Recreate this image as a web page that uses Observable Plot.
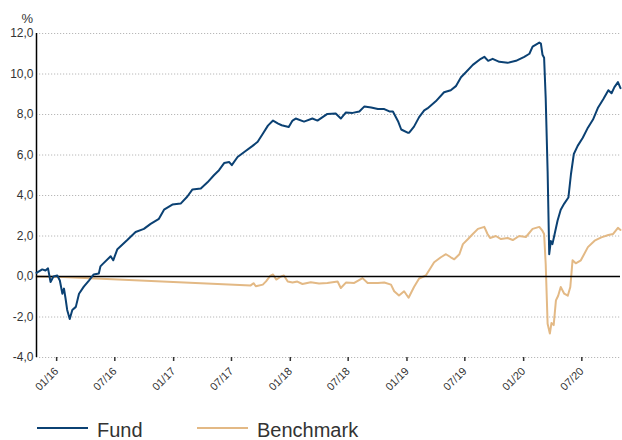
<!DOCTYPE html>
<html><head><meta charset="utf-8">
<script src="https://cdn.jsdelivr.net/npm/d3@7"></script>
<script src="https://cdn.jsdelivr.net/npm/@observablehq/plot@0.6"></script>
<style>
body{margin:0;background:#fff;font-family:"Liberation Sans",Arial,sans-serif;}
#chart{width:622px;height:400px;}
#legend{position:relative;width:622px;height:40px;}
.sw{position:absolute;height:0;border-top:2px solid;width:51px;top:27px;}
.lt{position:absolute;top:20px;font-size:20px;line-height:20px;color:#333;}
</style></head><body>
<div id="chart"></div>
<div id="legend">
  <div class="sw" style="left:37px;border-color:#0b4173"></div><div class="lt" style="left:97px">Fund</div>
  <div class="sw" style="left:197px;border-color:#e3b985"></div><div class="lt" style="left:257px">Benchmark</div>
</div>
<script>
const fundDates = ["2015-10-30","2015-11-17","2015-11-27","2015-12-05","2015-12-13","2015-12-22","2016-01-03","2016-01-11","2016-01-19","2016-01-24","2016-01-29","2016-02-03","2016-02-11","2016-02-19","2016-03-01","2016-03-11","2016-03-26","2016-04-11","2016-04-26","2016-05-12","2016-05-17","2016-05-23","2016-06-18","2016-06-26","2016-07-09","2016-08-09","2016-09-04","2016-09-30","2016-10-21","2016-11-16","2016-12-02","2016-12-28","2017-01-23","2017-02-13","2017-03-01","2017-03-27","2017-04-17","2017-05-07","2017-05-23","2017-06-08","2017-06-24","2017-07-02","2017-07-20","2017-08-10","2017-09-05","2017-09-21","2017-10-07","2017-10-23","2017-11-08","2017-11-24","2017-12-05","2017-12-27","2018-01-08","2018-01-18","2018-02-13","2018-03-11","2018-03-27","2018-04-27","2018-05-23","2018-06-08","2018-06-24","2018-07-15","2018-08-05","2018-08-21","2018-09-11","2018-10-02","2018-10-22","2018-11-07","2018-11-18","2018-12-04","2018-12-14","2019-01-03","2019-01-08","2019-01-23","2019-02-08","2019-02-24","2019-03-06","2019-04-01","2019-04-27","2019-05-18","2019-06-03","2019-06-19","2019-07-05","2019-07-26","2019-08-20","2019-08-31","2019-09-12","2019-09-26","2019-10-17","2019-11-12","2019-12-08","2020-01-03","2020-01-19","2020-01-29","2020-02-19","2020-02-24","2020-02-29","2020-03-05","2020-03-10","2020-03-16","2020-03-21","2020-03-26","2020-03-31","2020-04-07","2020-04-16","2020-04-26","2020-05-07","2020-05-20","2020-05-28","2020-06-06","2020-06-18","2020-07-04","2020-07-20","2020-08-05","2020-08-21","2020-09-06","2020-09-22","2020-10-02","2020-10-11","2020-10-22","2020-10-30"];
const fundValues = [0.18,0.35,0.3,0.4,-0.27,0.0,0.05,-0.2,-0.85,-0.6,-1.1,-1.65,-2.1,-1.65,-1.5,-0.85,-0.5,-0.2,0.1,0.15,0.5,0.6,1.0,0.8,1.35,1.8,2.2,2.35,2.6,2.85,3.3,3.55,3.6,3.95,4.3,4.35,4.65,5.0,5.25,5.6,5.65,5.5,5.9,6.15,6.45,6.65,7.05,7.45,7.7,7.55,7.47,7.38,7.7,7.8,7.65,7.8,7.7,8.03,8.05,7.8,8.1,8.08,8.15,8.4,8.35,8.27,8.27,8.15,8.15,7.67,7.26,7.1,7.1,7.4,7.87,8.2,8.3,8.65,9.1,9.2,9.4,9.84,10.1,10.45,10.75,10.85,10.65,10.75,10.6,10.55,10.65,10.85,11.0,11.35,11.55,11.5,10.95,10.8,8.8,5.2,1.1,1.75,1.6,2.1,2.75,3.3,3.6,3.9,5.05,6.05,6.45,6.85,7.35,7.75,8.35,8.75,9.2,9.05,9.35,9.6,9.3];
const benchDates = ["2015-10-30","2016-01-20","2017-08-30","2017-09-08","2017-09-15","2017-10-07","2017-10-17","2017-10-30","2017-11-08","2017-11-18","2017-12-03","2017-12-12","2017-12-24","2018-01-08","2018-01-23","2018-02-08","2018-03-06","2018-04-01","2018-04-27","2018-05-29","2018-06-08","2018-06-24","2018-07-20","2018-08-15","2018-08-31","2018-10-02","2018-10-22","2018-11-12","2018-11-22","2018-12-07","2018-12-23","2019-01-06","2019-01-23","2019-02-08","2019-03-01","2019-03-27","2019-04-17","2019-05-03","2019-05-18","2019-05-29","2019-06-14","2019-06-25","2019-07-11","2019-07-26","2019-08-11","2019-08-31","2019-09-10","2019-09-18","2019-10-06","2019-10-22","2019-11-12","2019-11-28","2019-12-18","2020-01-08","2020-01-29","2020-02-19","2020-02-29","2020-03-05","2020-03-10","2020-03-16","2020-03-23","2020-03-28","2020-04-04","2020-04-11","2020-04-18","2020-04-26","2020-05-07","2020-05-18","2020-05-26","2020-06-02","2020-06-12","2020-06-28","2020-07-20","2020-08-10","2020-08-31","2020-09-22","2020-10-07","2020-10-22","2020-10-30"];
const benchValues = [0.0,-0.02,-0.44,-0.33,-0.48,-0.4,-0.24,0.03,0.1,-0.15,0.0,0.05,-0.25,-0.3,-0.25,-0.37,-0.28,-0.35,-0.32,-0.25,-0.57,-0.3,-0.32,-0.08,-0.32,-0.32,-0.3,-0.4,-0.73,-0.94,-0.73,-1.05,-0.52,-0.1,0.05,0.7,0.95,1.1,0.95,0.85,1.1,1.6,1.85,2.1,2.35,2.45,2.1,1.9,2.0,1.85,1.9,1.8,2.0,1.95,2.35,2.45,2.25,2.1,0.62,-2.33,-2.82,-2.3,-2.4,-1.18,-0.95,-0.52,-0.85,-0.95,-0.52,0.8,0.65,0.8,1.45,1.77,1.93,2.05,2.1,2.4,2.3];
const xTickDates = ["2016-01-01","2016-07-01","2017-01-01","2017-07-01","2018-01-01","2018-07-01","2019-01-01","2019-07-01","2020-01-01","2020-07-01"];
const yTicks = [-4,-2,0,2,4,6,8,10,12];
const xStart = "2015-10-30", xEnd = "2020-10-30";

const P = d3.isoParse;
const fund = fundDates.map((d,i)=>({date:P(d), value:fundValues[i]}));
const bench = benchDates.map((d,i)=>({date:P(d), value:benchValues[i]}));
const x0 = P(xStart), x1 = P(xEnd);

const chart = Plot.plot({
  width: 622, height: 400,
  marginLeft: 36, marginRight: 2, marginTop: 33, marginBottom: 43,
  style: {fontFamily: "'Liberation Sans', Arial, sans-serif", color: "#333", background: "#fff"},
  x: {type: "utc", domain: [x0, x1]},
  y: {domain: [-4, 12]},
  marks: [
    Plot.gridY(yTicks, {stroke: "#b8b8b8", strokeOpacity: 1, strokeDasharray: "1.2,1.8", strokeWidth: 1}),
    Plot.axisY({ticks: yTicks, tickSize: 0, tickPadding: 3, fontSize: 12, tickFormat: d => d.toFixed(1).replace(".", ","), label: null}),
    Plot.axisX({ticks: xTickDates.map(P), tickFormat: d3.utcFormat("%m/%y"), tickRotate: -45, tickSize: 4, fontSize: 11, label: null, strokeWidth: 1.5}),
    Plot.text(["%"], {frameAnchor: "top-left", dx: -15, dy: -20, fontSize: 13, fill: "#333"}),
    Plot.line(bench, {x: "date", y: "value", stroke: "#e3b985", strokeWidth: 2}),
    Plot.ruleY([0], {stroke: "#000", strokeWidth: 1.3}),
    Plot.ruleX([x0], {y1: -4, y2: 12, stroke: "#000", strokeWidth: 1.5}),
    Plot.line(fund, {x: "date", y: "value", stroke: "#0b4173", strokeWidth: 2})
  ]
});
document.getElementById("chart").appendChild(chart);
</script>
</body></html>
